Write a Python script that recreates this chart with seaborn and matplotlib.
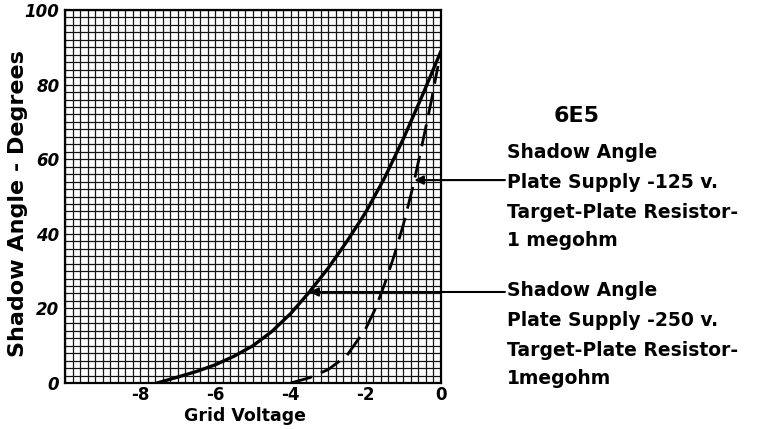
import numpy as np
import pandas as pd
import matplotlib
matplotlib.use("Agg")
import matplotlib.pyplot as plt
from matplotlib.ticker import MultipleLocator
import seaborn as sns

# Grid voltage (V) vs shadow angle (degrees) for the 6E5 tuning indicator
grid_v_250 = [-7.55, -7.0, -6.5, -6.0, -5.5, -5.0, -4.5, -4.0, -3.5, -3.0,
              -2.5, -2.0, -1.5, -1.0, -0.5, 0.0]
angle_250 = [0.0, 1.6, 3.1, 4.9, 7.2, 10.0, 13.8, 18.6, 24.4, 30.8,
             38.0, 45.8, 55.0, 65.5, 77.0, 89.0]

grid_v_125 = [-4.0, -3.5, -3.0, -2.5, -2.0, -1.75, -1.5, -1.25, -1.0, -0.75,
              -0.5, -0.25, -0.08]
angle_125 = [0.0, 1.4, 3.6, 7.4, 14.6, 19.8, 26.5, 34.0, 42.5, 52.5,
             64.0, 76.0, 85.0]

x_ticks = [-8, -6, -4, -2, 0]
y_ticks = [0, 20, 40, 60, 80, 100]

title_text = "6E5"
label_125 = ["Shadow Angle", "Plate Supply -125 v.", "Target-Plate Resistor-",
             "1 megohm"]
label_250 = ["Shadow Angle", "Plate Supply -250 v.", "Target-Plate Resistor-",
             "1megohm"]

df = pd.concat([
    pd.DataFrame({"v": grid_v_250, "a": angle_250, "s": "250"}),
    pd.DataFrame({"v": grid_v_125, "a": angle_125, "s": "125"}),
])

sns.set_style("white")
plt.rcParams["font.family"] = ["DejaVu Sans"]
plt.rcParams.update({"text.color": "black", "axes.labelcolor": "black",
                     "xtick.color": "black", "ytick.color": "black"})

W, H = 767, 429
fig = plt.figure(figsize=(W / 100, H / 100), dpi=100)
ax = fig.add_axes([65 / W, 1 - 383 / H, 376 / W, 373 / H])

sns.lineplot(data=df[df.s == "250"], x="v", y="a", ax=ax, color="black",
             lw=2.4, sort=False, legend=False)
sns.lineplot(data=df[df.s == "125"], x="v", y="a", ax=ax, color="black",
             lw=2.0, sort=False, legend=False)
ax.lines[-1].set_dashes((8, 3.5))

# graph-paper grid: 0.2 V by 2 degree squares
ax.set_xlim(-10, 0)
ax.set_ylim(0, 100)
ax.set_xticks(x_ticks)
ax.set_yticks(y_ticks)
ax.xaxis.set_minor_locator(MultipleLocator(0.2))
ax.yaxis.set_minor_locator(MultipleLocator(2))
ax.grid(which="both", color="#141414", lw=0.9)
ax.set_axisbelow(True)

for sp in ax.spines.values():
    sp.set_color("black")
    sp.set_linewidth(1.6)

ax.set_xticklabels([str(t) for t in x_ticks], fontsize=12, fontweight="bold")
ax.set_yticklabels([str(t) for t in y_ticks], fontsize=12, fontweight="bold",
                   style="italic")
ax.tick_params(axis="x", which="both", length=0, pad=2)
ax.tick_params(axis="y", which="both", length=0, pad=4)

ax.set_xlabel("Grid Voltage", fontsize=12.5, fontweight="bold")
ax.xaxis.set_label_coords(0.48, -0.064)
ax.set_ylabel("Shadow Angle - Degrees", fontsize=16, fontweight="bold")
ax.yaxis.set_label_coords(-0.098, 0.48)


def fx(px):
    return px / W


def fy(py):
    return 1 - py / H


fig.text(fx(577), fy(116), title_text, fontsize=16, fontweight="bold",
         ha="center", va="center")

txt_kw = dict(fontsize=13.5, fontweight="bold", ha="left", va="center")
for line, py in zip(label_125, [153, 183, 213, 240]):
    fig.text(fx(507), fy(py), line, **txt_kw)
for line, py in zip(label_250, [291, 320, 350, 378]):
    fig.text(fx(507), fy(py), line, **txt_kw)

# leader arrows from the captions to their curves
arrow_kw = dict(arrowstyle="-|>", color="black", lw=1.5, mutation_scale=13,
                shrinkA=0, shrinkB=0)
y_top = 54.4
x_top = np.interp(y_top, angle_125, grid_v_125)
ax.annotate("", xy=(x_top, y_top), xytext=(1.70, y_top),
            arrowprops=arrow_kw, annotation_clip=False)
y_bot = 24.4
x_bot = np.interp(y_bot, angle_250, grid_v_250)
ax.annotate("", xy=(x_bot, y_bot), xytext=(1.70, y_bot),
            arrowprops=arrow_kw, annotation_clip=False)

fig.savefig("out.png", dpi=100, facecolor="white")
